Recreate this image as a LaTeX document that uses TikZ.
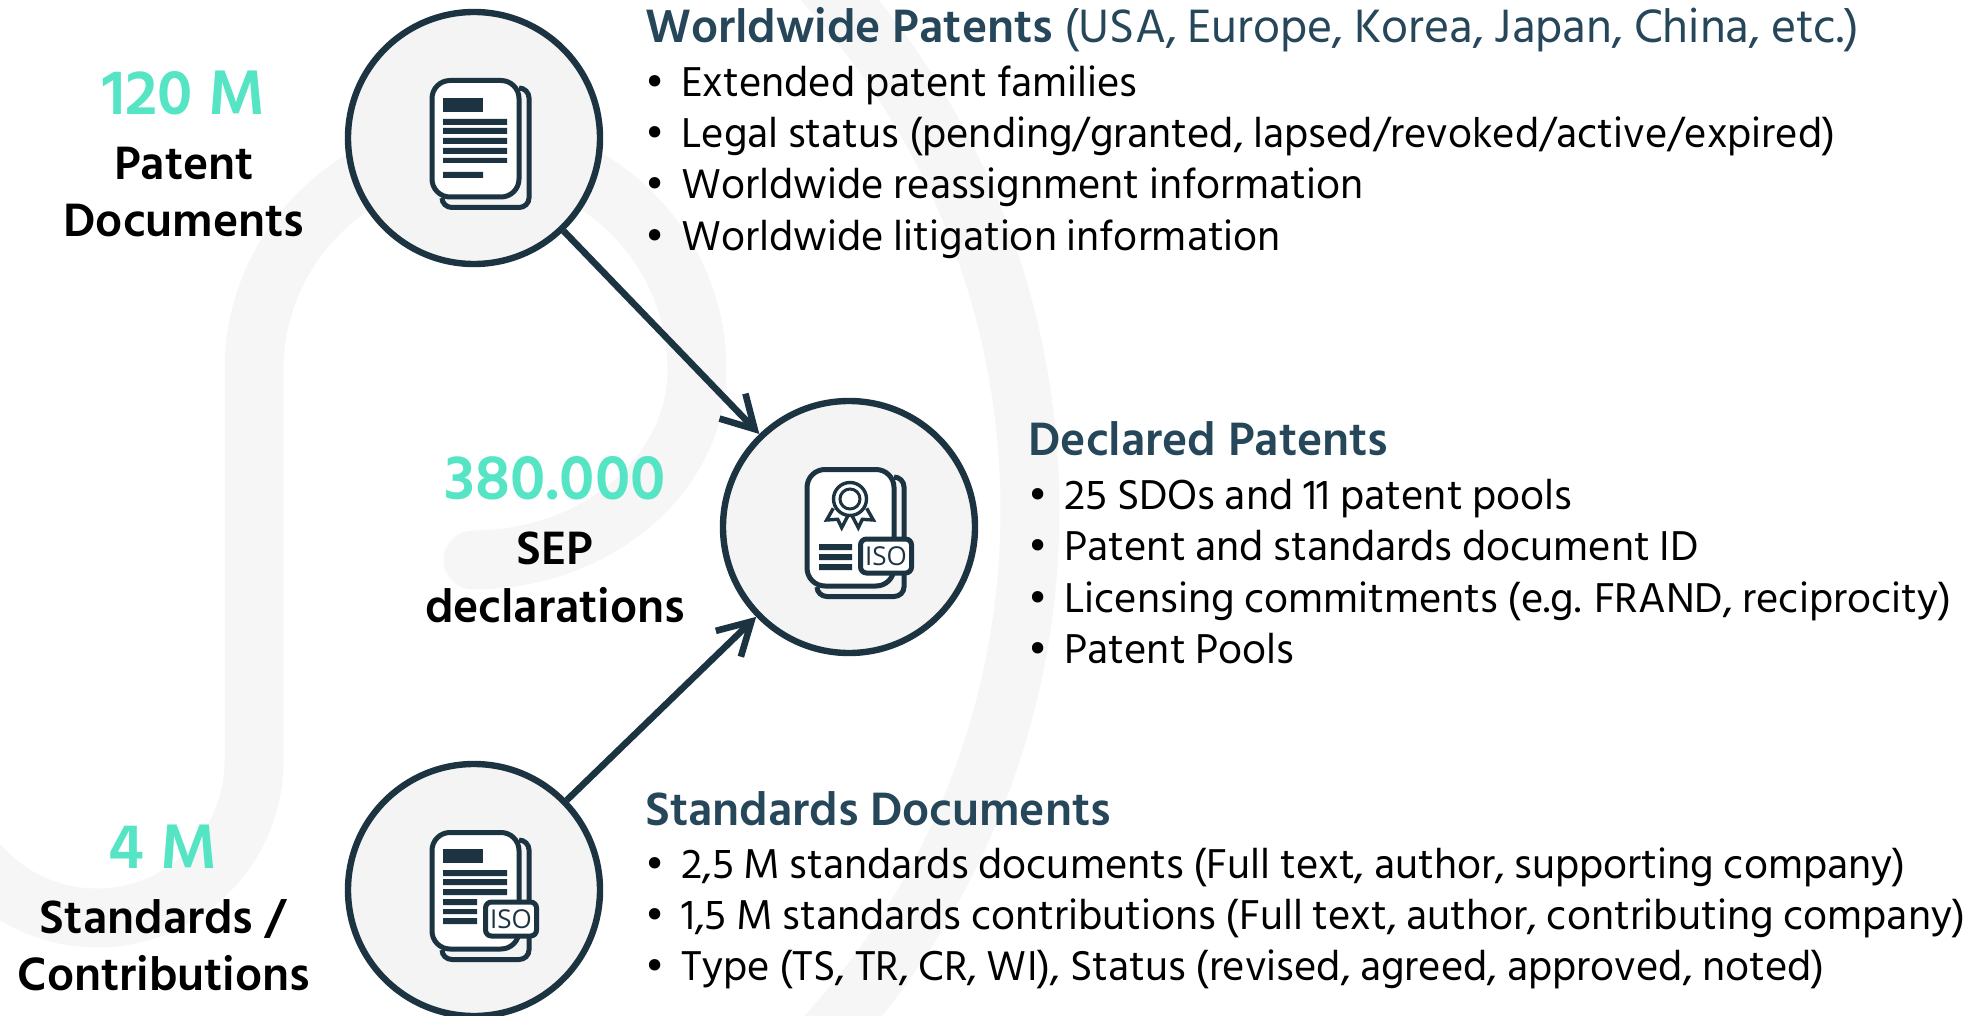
\documentclass[tikz,border=0pt]{standalone}
\usepackage{fontspec}
\setmainfont{Hind Siliguri}
\newfontfamily\isofont{Open Sans}
\usetikzlibrary{arrows.meta}
\definecolor{ink}{HTML}{1C3341}
\definecolor{heading}{HTML}{26465A}
\definecolor{mint}{HTML}{56E5C4}
\definecolor{swirlgray}{HTML}{F6F6F6}
\definecolor{discgray}{HTML}{F4F4F4}
% two stacked sheets, origin at the centre of the disc
\newcommand{\pagestack}{
  \draw[sheet] (-32,60) to[out=-90,in=180] (-22,69.5) -- (45,69.5)
    to[out=0,in=-90] (55,60) -- (55,-40) to[out=90,in=0] (45,-50);
  \draw[sheet, fill=white, rounded corners=9] (-42,-57.5) rectangle (45,59);
}
\newcommand{\isobadge}[1]{
  \node[isotag] (#1) at (37,29) {ISO};
}
\begin{document}
\begin{tikzpicture}[x=.5pt, y=-.5pt]
\tikzstyle{swirl}=[draw=swirlgray, line width=29.5pt, line cap=round]
\tikzstyle{stage}=[circle, draw=ink, fill=discgray, line width=3.2pt, minimum size=126pt]
\tikzstyle{sheet}=[draw=ink, line width=2.5pt]
\tikzstyle{isotag}=[rectangle, rounded corners=3pt, draw=ink, fill=white, line width=2.5pt,
                    minimum width=25.5pt, minimum height=17pt, inner sep=0pt,
                    font=\isofont\fontsize{13}{13}\selectfont, text=ink]
\tikzstyle{link}=[draw=ink, line width=3.3pt, -{Straight Barb[length=16pt,width=18pt,line width=3.3pt]}]
\tikzstyle{figure}=[anchor=base, text=mint, font=\fontsize{32.3}{32.3}\selectfont\bfseries]
\tikzstyle{caption}=[anchor=base, text=black, font=\fontsize{24}{24}\selectfont\bfseries]
\tikzstyle{title}=[anchor=base west, text=heading, font=\fontsize{24}{24}\selectfont]
\tikzstyle{entry}=[anchor=base west, text=black, inner sep=0pt, font=\fontsize{21.4}{21.4}\selectfont]
\newcommand{\bullitem}[1]{\makebox[18pt][l]{•}#1}

\useasboundingbox (0,0) rectangle (1985,1016);
\begin{scope}
\clip (0,0) rectangle (1985,1016);
\draw[swirl] (473,560) .. controls (596,560) and (697,475) .. (697,370)
  arc[start angle=0, end angle=-180, radius=221.5] -- (254,761)
  arc[start angle=0, end angle=140, radius=157];
\draw[swirl] (250,510) ++(-43:780) arc[start angle=-43, end angle=43, radius=780];
\end{scope}

\node[stage] (patents) at (474,138) {};
\node[stage] (declared) at (849,527) {};
\node[stage] (standards) at (474,890) {};
\draw[link] (patents) -- (declared);
\draw[link] (standards) -- (declared);

\begin{scope}[shift={(patents)}]
\pagestack
\fill[ink] (-31,-40) rectangle (9,-26);
\fill[ink] (-31,-19) rectangle (33,-13) (-31,-10) rectangle (33,-4) (-31,0) rectangle (33,6)
  (-31,10) rectangle (33,16) (-31,20) rectangle (33,25) (-31,34) rectangle (9,40);
\end{scope}

\begin{scope}[shift={(declared)}]
\pagestack
\draw[sheet, line width=1.7pt, fill=white, line join=miter]
  (-15.7,-18.7) -- (-22.3,-7) -- (-11.3,-7.7) -- (-7.3,.7) -- (-.7,-12);
\draw[sheet, line width=1.7pt, fill=white, line join=miter]
  (17.7,-18.7) -- (24.3,-7) -- (13.3,-7.7) -- (9.3,.7) -- (2.7,-12);
\draw[sheet, line width=1.7pt, fill=white] (1,-28) circle (16.5);
\draw[sheet, line width=1.5pt, fill=white] (1,-28) circle (10);
\fill[ink] (-30,17) rectangle (3,23) (-30,27) rectangle (3,33) (-30,37) rectangle (3,43);
\isobadge{declarediso}
\end{scope}

\begin{scope}[shift={(standards)}]
\pagestack
\fill[ink] (-31,-41) rectangle (9,-27);
\fill[ink] (-31,-20) rectangle (33,-14) (-31,-11) rectangle (33,-5) (-31,-1) rectangle (33,5)
  (-31,9) rectangle (3,15) (-31,19) rectangle (3,24) (-31,28) rectangle (3,34);
\isobadge{standardsiso}
\end{scope}

\node[figure] (patentcount) at (184,115) {120 M};
\node[caption] (patentcap) at (184,180) {Patent};
\node[caption] (patentcapb) at (184,237) {Documents};
\node[figure] (sepcount) at (555,499) {380.000};
\node[caption] (sepcap) at (555,564) {SEP};
\node[caption] (sepcapb) at (555,622) {declarations};
\node[figure] (stdcount) at (163,868) {4 M};
\node[caption] (stdcap) at (163,933) {Standards /};
\node[caption] (stdcapb) at (164,990) {Contributions};

\node[title, inner sep=0pt] (worldtitle) at (645,43) {\textbf{Worldwide Patents} (USA, Europe, Korea, Japan, China, etc.)};
\node[entry] (worlda) at (645,97) {\bullitem{Extended patent families}};
\node[entry] (worldb) at (645,148) {\bullitem{Legal status (pending/granted, lapsed/revoked/active/expired)}};
\node[entry] (worldc) at (645,199) {\bullitem{Worldwide reassignment information}};
\node[entry] (worldd) at (645,250) {\bullitem{Worldwide litigation information}};

\node[title, inner sep=0pt] (decltitle) at (1028,455) {\textbf{Declared Patents}};
\node[entry] (decla) at (1028,509) {\bullitem{25 SDOs and 11 patent pools}};
\node[entry] (declb) at (1028,560) {\bullitem{Patent and standards document ID}};
\node[entry] (declc) at (1028,612) {\bullitem{Licensing commitments (e.g. FRAND, reciprocity)}};
\node[entry] (decld) at (1028,663) {\bullitem{Patent Pools}};

\node[title, inner sep=0pt] (stdtitle) at (645,825) {\textbf{Standards Documents}};
\node[entry] (stda) at (645,878) {\bullitem{2,5 M standards documents (Full text, author, supporting company)}};
\node[entry] (stdb) at (645,929) {\bullitem{1,5 M standards contributions (Full text, author, contributing company)}};
\node[entry] (stdc) at (645,980) {\bullitem{Type (TS, TR, CR, WI), Status (revised, agreed, approved, noted)}};
\end{tikzpicture}
\end{document}
